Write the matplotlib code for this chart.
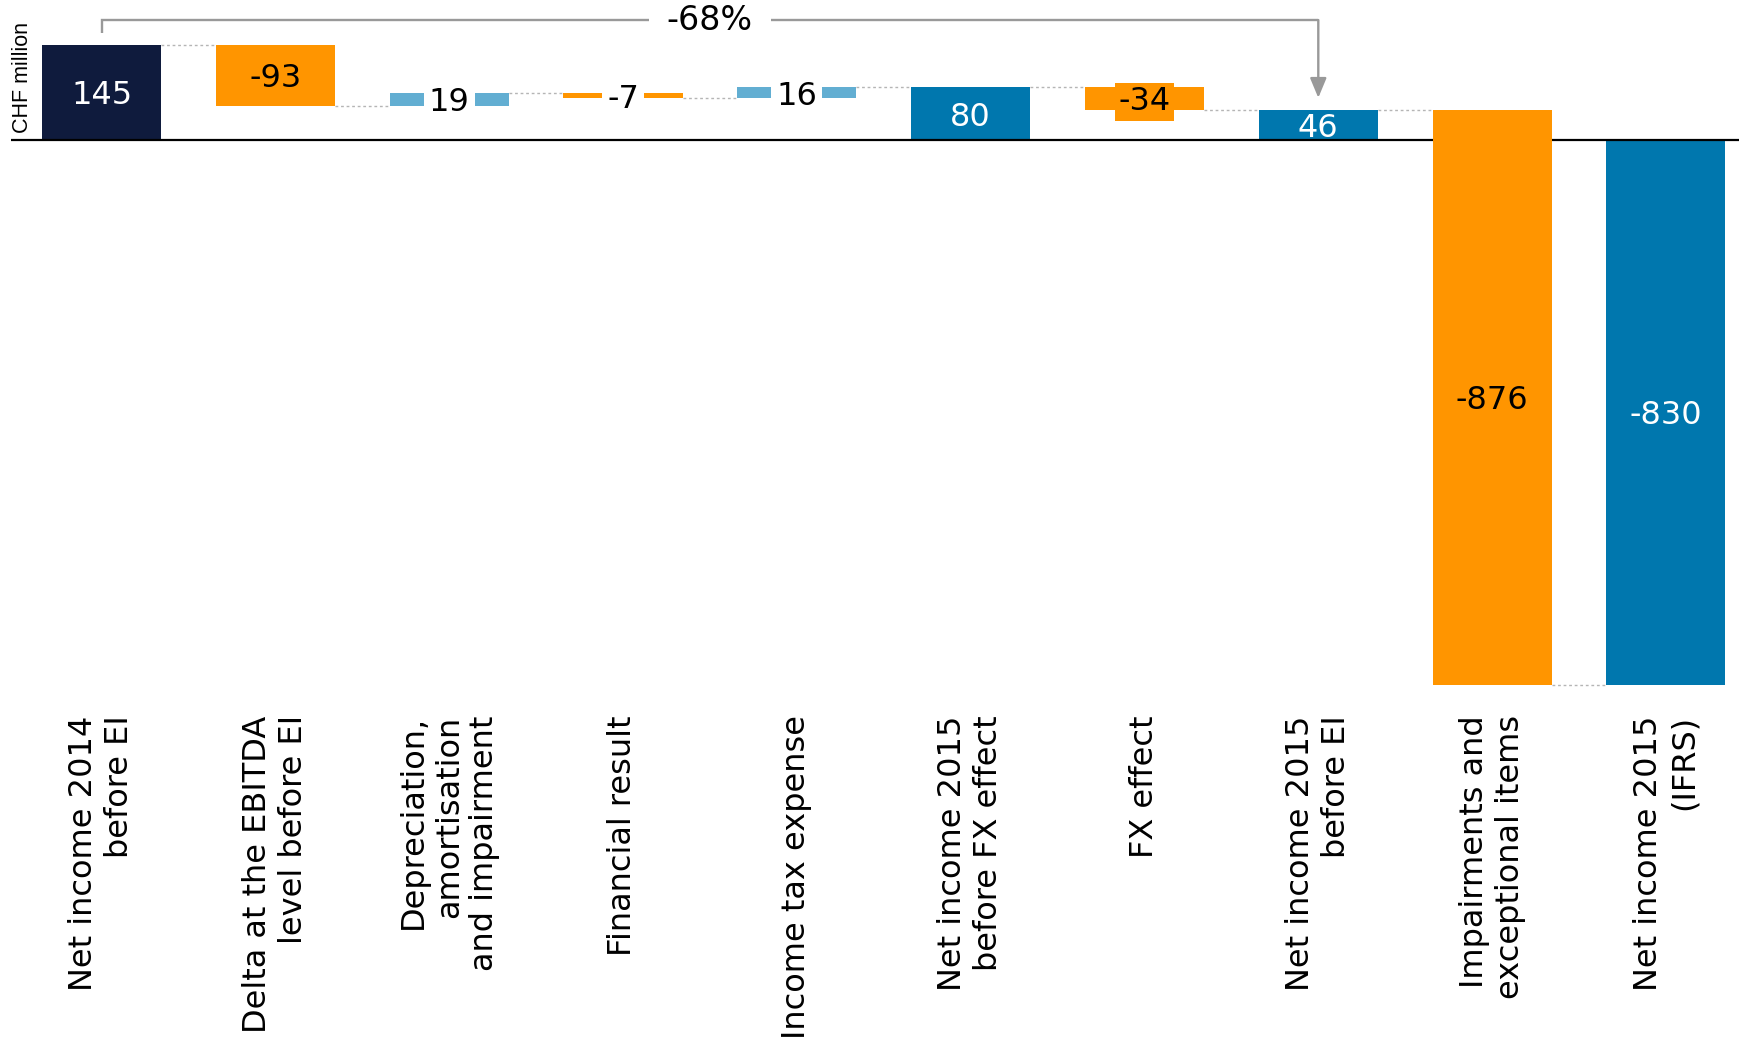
import matplotlib
matplotlib.use("Agg")
import matplotlib.pyplot as plt
from matplotlib.transforms import blended_transform_factory

# Waterfall data (CHF million)
categories = [
    "Net income 2014\nbefore EI",
    "Delta at the EBITDA\nlevel before EI",
    "Depreciation,\namortisation\nand impairment",
    "Financial result",
    "Income tax expense",
    "Net income 2015\nbefore FX effect",
    "FX effect",
    "Net income 2015\nbefore EI",
    "Impairments and\nexceptional items",
    "Net income 2015\n(IFRS)",
]
values = [145, -93, 19, -7, 16, 80, -34, 46, -876, -830]
is_total = [True, False, False, False, False, True, False, True, False, True]
change_label = "-68%"
unit_label = "CHF million"

NAVY = "#0F1B3D"
BLUE = "#0077AE"
LIGHT_BLUE = "#62AED2"
ORANGE = "#FF9500"
GREY = "#999999"

plt.rcParams["font.family"] = ["DejaVu Sans"]

W, H = 1740, 1043
fig = plt.figure(figsize=(W / 100, H / 100), dpi=100)
ax = fig.add_axes([11 / W, 1 - 700 / H, (W - 11) / W, 700 / H])

# running levels of the waterfall
bottoms, colors = [], []
level = 0
for i, (v, tot) in enumerate(zip(values, is_total)):
    if tot:
        bottoms.append(0)
        colors.append(NAVY if i == 0 else BLUE)
        level = v
    else:
        bottoms.append(level)
        colors.append(LIGHT_BLUE if v > 0 else ORANGE)
        level += v
ends = [b + v for b, v in zip(bottoms, values)]

width = 0.685
x = list(range(len(values)))
for i in x:
    ax.bar(i, values[i], bottom=bottoms[i], width=width, color=colors[i],
           linewidth=0, zorder=2 if is_total[i] else 4)

# zero line
ax.axhline(0, color="black", lw=1.6, zorder=3)

# dotted connectors between neighbouring bars
for i in x[:-1]:
    lvl = ends[i]
    ax.plot([i + width / 2, i + 1 - width / 2], [lvl, lvl], color="#B5B5B5",
            lw=1.0, ls=(0, (2, 2)), zorder=1)

# value labels
VFS = 23
for i in x:
    v = values[i]
    ymid = bottoms[i] + v / 2
    txt = f"{v:d}"
    kw = dict(ha="center", va="center_baseline", fontsize=VFS, zorder=6)
    if is_total[i]:
        ax.text(i, ymid, txt, color="white", **kw)
    elif abs(v) < 25:
        ax.text(i, ymid, txt, color="black",
                bbox=dict(boxstyle="square,pad=0.16", fc="white", ec="none"),
                **kw)
    elif abs(v) < 50:
        ax.text(i, ymid, txt, color="black",
                bbox=dict(boxstyle="square,pad=0.12", fc=colors[i], ec="none"),
                **kw)
    else:
        ax.text(i, ymid, txt, color="black", **kw)

# change bracket from first to second "before EI" total
i0, i1 = 0, 7
y_top = 182.5
ax.plot([i0, i0, i1], [values[i0] + 18, y_top, y_top], color=GREY, lw=1.7,
        zorder=5, solid_joinstyle="miter", solid_capstyle="butt")
ax.annotate("", xy=(i1, values[i1] + 18), xytext=(i1, y_top),
            arrowprops=dict(arrowstyle="-|>,head_length=0.6,head_width=0.25",
                            color=GREY, lw=1.7, mutation_scale=20,
                            shrinkA=0, shrinkB=0), zorder=5)
ax.text((i0 + i1) / 2, y_top, change_label, ha="center", va="center",
        fontsize=24, color="black", zorder=6,
        bbox=dict(boxstyle="square,pad=0.55", fc="white", ec="none"))

# unit label at the left
tr = blended_transform_factory(fig.transFigure, ax.transData)
ax.text(23 / W, 10, unit_label, transform=tr, rotation=90, ha="center",
        va="bottom", fontsize=15.5, family="Liberation Sans", color="black")

ax.set_xlim(-0.5207, 9.426)
ax.set_ylim(-853.3, 213)
ax.set_xticks(x)
ax.set_xticklabels(categories, rotation=90, fontsize=23, ha="center",
                   va="top", multialignment="right")
ax.tick_params(axis="x", length=0, pad=11.0)
ax.set_yticks([])
for s in ax.spines.values():
    s.set_visible(False)

fig.savefig("out.png", dpi=100, facecolor="white")
